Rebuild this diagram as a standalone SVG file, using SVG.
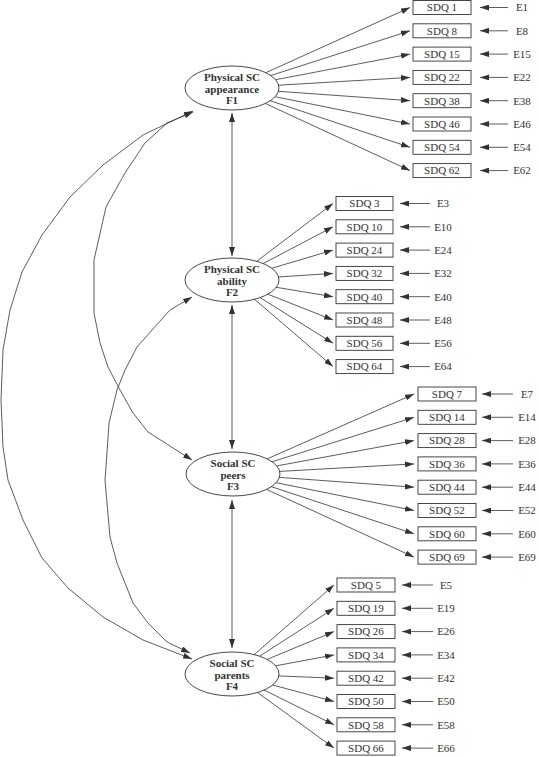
<svg xmlns="http://www.w3.org/2000/svg" width="539" height="757" viewBox="0 0 539 757">
<defs>
<marker id="ah" markerUnits="userSpaceOnUse" markerWidth="9" markerHeight="6" refX="9" refY="3" orient="auto-start-reverse">
<path d="M0,0 L9,3 L0,6 z" fill="#333"/>
</marker>
<style>
.c{stroke:#333;stroke-width:0.8;fill:none}
.a{marker-end:url(#ah)}
.d{marker-start:url(#ah);marker-end:url(#ah)}
.box{fill:#fff;stroke:#333;stroke-width:0.9}
.ell{fill:#fff;stroke:#333;stroke-width:0.9}
.bt{font-family:"Liberation Serif",serif;font-size:11px;fill:#333;text-anchor:middle}
.ft{font-family:"Liberation Serif",serif;font-size:11px;font-weight:bold;fill:#333;text-anchor:middle}
</style>
</defs>
<rect width="539" height="757" fill="#fff"/>
<g id="connectors">
<line class="c a" x1="232" y1="88" x2="410" y2="7.5"/>
<line class="c a" x1="232" y1="88" x2="410" y2="30.8"/>
<line class="c a" x1="232" y1="88" x2="410" y2="54.1"/>
<line class="c a" x1="232" y1="88" x2="410" y2="77.4"/>
<line class="c a" x1="232" y1="88" x2="410" y2="100.7"/>
<line class="c a" x1="232" y1="88" x2="410" y2="124"/>
<line class="c a" x1="232" y1="88" x2="410" y2="147.3"/>
<line class="c a" x1="232" y1="88" x2="410" y2="170.6"/>
<line class="c a" x1="232" y1="280" x2="333" y2="203.5"/>
<line class="c a" x1="232" y1="280" x2="333" y2="226.8"/>
<line class="c a" x1="232" y1="280" x2="333" y2="250.1"/>
<line class="c a" x1="232" y1="280" x2="333" y2="273.4"/>
<line class="c a" x1="232" y1="280" x2="333" y2="296.7"/>
<line class="c a" x1="232" y1="280" x2="333" y2="320"/>
<line class="c a" x1="232" y1="280" x2="333" y2="343.3"/>
<line class="c a" x1="232" y1="280" x2="333" y2="366.6"/>
<line class="c a" x1="233" y1="474" x2="414" y2="394"/>
<line class="c a" x1="233" y1="474" x2="414" y2="417.3"/>
<line class="c a" x1="233" y1="474" x2="414" y2="440.6"/>
<line class="c a" x1="233" y1="474" x2="414" y2="463.9"/>
<line class="c a" x1="233" y1="474" x2="414" y2="487.2"/>
<line class="c a" x1="233" y1="474" x2="414" y2="510.5"/>
<line class="c a" x1="233" y1="474" x2="414" y2="533.8"/>
<line class="c a" x1="233" y1="474" x2="414" y2="557.1"/>
<line class="c a" x1="232" y1="674" x2="334" y2="585"/>
<line class="c a" x1="232" y1="674" x2="334" y2="608.3"/>
<line class="c a" x1="232" y1="674" x2="334" y2="631.6"/>
<line class="c a" x1="232" y1="674" x2="334" y2="654.9"/>
<line class="c a" x1="232" y1="674" x2="334" y2="678.2"/>
<line class="c a" x1="232" y1="674" x2="334" y2="701.5"/>
<line class="c a" x1="232" y1="674" x2="334" y2="724.8"/>
<line class="c a" x1="232" y1="674" x2="334" y2="748.1"/>
<line class="c a" x1="508" y1="7.5" x2="480" y2="7.5"/>
<line class="c a" x1="508" y1="30.8" x2="480" y2="30.8"/>
<line class="c a" x1="508" y1="54.1" x2="480" y2="54.1"/>
<line class="c a" x1="508" y1="77.4" x2="480" y2="77.4"/>
<line class="c a" x1="508" y1="100.7" x2="480" y2="100.7"/>
<line class="c a" x1="508" y1="124" x2="480" y2="124"/>
<line class="c a" x1="508" y1="147.3" x2="480" y2="147.3"/>
<line class="c a" x1="508" y1="170.6" x2="480" y2="170.6"/>
<line class="c a" x1="430" y1="203.5" x2="400" y2="203.5"/>
<line class="c a" x1="430" y1="226.8" x2="400" y2="226.8"/>
<line class="c a" x1="430" y1="250.1" x2="400" y2="250.1"/>
<line class="c a" x1="430" y1="273.4" x2="400" y2="273.4"/>
<line class="c a" x1="430" y1="296.7" x2="400" y2="296.7"/>
<line class="c a" x1="430" y1="320" x2="400" y2="320"/>
<line class="c a" x1="430" y1="343.3" x2="400" y2="343.3"/>
<line class="c a" x1="430" y1="366.6" x2="400" y2="366.6"/>
<line class="c a" x1="513" y1="394" x2="482" y2="394"/>
<line class="c a" x1="513" y1="417.3" x2="482" y2="417.3"/>
<line class="c a" x1="513" y1="440.6" x2="482" y2="440.6"/>
<line class="c a" x1="513" y1="463.9" x2="482" y2="463.9"/>
<line class="c a" x1="513" y1="487.2" x2="482" y2="487.2"/>
<line class="c a" x1="513" y1="510.5" x2="482" y2="510.5"/>
<line class="c a" x1="513" y1="533.8" x2="482" y2="533.8"/>
<line class="c a" x1="513" y1="557.1" x2="482" y2="557.1"/>
<line class="c a" x1="433" y1="585" x2="402" y2="585"/>
<line class="c a" x1="433" y1="608.3" x2="402" y2="608.3"/>
<line class="c a" x1="433" y1="631.6" x2="402" y2="631.6"/>
<line class="c a" x1="433" y1="654.9" x2="402" y2="654.9"/>
<line class="c a" x1="433" y1="678.2" x2="402" y2="678.2"/>
<line class="c a" x1="433" y1="701.5" x2="402" y2="701.5"/>
<line class="c a" x1="433" y1="724.8" x2="402" y2="724.8"/>
<line class="c a" x1="433" y1="748.1" x2="402" y2="748.1"/>
<line class="c d" x1="232" y1="113" x2="232" y2="256"/>
<line class="c d" x1="232" y1="305" x2="232" y2="449"/>
<line class="c d" x1="232" y1="500" x2="232" y2="648"/>
<polyline class="c d" points="193,111 143,135 103,165 70,197 42,235 22,272 10,310 3,350 1,400 3,447 8,480 23,520 42,558 68,588 103,617 143,640 192,659"/>
<polyline class="c d" points="193,112 167,123 145,143 125,173 106,207 94,260 94,313 100,343 108,367 120,390 133,413 148,432 192,460"/>
<polyline class="c d" points="192,297 170,310 152,330 137,347 125,370 117,390 109,423 106,467 105,480 110,537 117,563 133,603 148,623 167,642 190,653"/>
</g>
<g id="F1"><ellipse class="ell" cx="232" cy="88" rx="47" ry="22"/><text class="ft" x="232" y="81">Physical SC</text><text class="ft" x="232" y="92.5">appearance</text><text class="ft" x="232" y="104">F1</text></g>
<g id="F2"><ellipse class="ell" cx="232" cy="280" rx="47" ry="22"/><text class="ft" x="232" y="273">Physical SC</text><text class="ft" x="232" y="284.5">ability</text><text class="ft" x="232" y="296">F2</text></g>
<g id="F3"><ellipse class="ell" cx="233" cy="474" rx="47" ry="22"/><text class="ft" x="233" y="467">Social SC</text><text class="ft" x="233" y="478.5">peers</text><text class="ft" x="233" y="490">F3</text></g>
<g id="F4"><ellipse class="ell" cx="232" cy="674" rx="47" ry="22"/><text class="ft" x="232" y="667">Social SC</text><text class="ft" x="232" y="678.5">parents</text><text class="ft" x="232" y="690">F4</text></g>
<g id="group1">
<g id="SDQ1"><rect class="box" x="413" y="0.5" width="58" height="14"/><text class="bt" x="442" y="11.3">SDQ 1</text></g>
<g id="SDQ8"><rect class="box" x="413" y="23.8" width="58" height="14"/><text class="bt" x="442" y="34.6">SDQ 8</text></g>
<g id="SDQ15"><rect class="box" x="413" y="47.1" width="58" height="14"/><text class="bt" x="442" y="57.9">SDQ 15</text></g>
<g id="SDQ22"><rect class="box" x="413" y="70.4" width="58" height="14"/><text class="bt" x="442" y="81.2">SDQ 22</text></g>
<g id="SDQ38"><rect class="box" x="413" y="93.7" width="58" height="14"/><text class="bt" x="442" y="104.5">SDQ 38</text></g>
<g id="SDQ46"><rect class="box" x="413" y="117" width="58" height="14"/><text class="bt" x="442" y="127.8">SDQ 46</text></g>
<g id="SDQ54"><rect class="box" x="413" y="140.3" width="58" height="14"/><text class="bt" x="442" y="151.1">SDQ 54</text></g>
<g id="SDQ62"><rect class="box" x="413" y="163.6" width="58" height="14"/><text class="bt" x="442" y="174.4">SDQ 62</text></g>
</g>
<g id="errors1">
<text class="bt" x="522" y="11.3">E1</text><text class="bt" x="522" y="34.6">E8</text><text class="bt" x="522" y="57.9">E15</text><text class="bt" x="522" y="81.2">E22</text><text class="bt" x="522" y="104.5">E38</text><text class="bt" x="522" y="127.8">E46</text><text class="bt" x="522" y="151.1">E54</text><text class="bt" x="522" y="174.4">E62</text>
</g>
<g id="group2">
<g id="SDQ3"><rect class="box" x="336" y="196.5" width="57" height="14"/><text class="bt" x="364.5" y="207.3">SDQ 3</text></g>
<g id="SDQ10"><rect class="box" x="336" y="219.8" width="57" height="14"/><text class="bt" x="364.5" y="230.6">SDQ 10</text></g>
<g id="SDQ24"><rect class="box" x="336" y="243.1" width="57" height="14"/><text class="bt" x="364.5" y="253.9">SDQ 24</text></g>
<g id="SDQ32"><rect class="box" x="336" y="266.4" width="57" height="14"/><text class="bt" x="364.5" y="277.2">SDQ 32</text></g>
<g id="SDQ40"><rect class="box" x="336" y="289.7" width="57" height="14"/><text class="bt" x="364.5" y="300.5">SDQ 40</text></g>
<g id="SDQ48"><rect class="box" x="336" y="313" width="57" height="14"/><text class="bt" x="364.5" y="323.8">SDQ 48</text></g>
<g id="SDQ56"><rect class="box" x="336" y="336.3" width="57" height="14"/><text class="bt" x="364.5" y="347.1">SDQ 56</text></g>
<g id="SDQ64"><rect class="box" x="336" y="359.6" width="57" height="14"/><text class="bt" x="364.5" y="370.4">SDQ 64</text></g>
</g>
<g id="errors2">
<text class="bt" x="443" y="207.3">E3</text><text class="bt" x="443" y="230.6">E10</text><text class="bt" x="443" y="253.9">E24</text><text class="bt" x="443" y="277.2">E32</text><text class="bt" x="443" y="300.5">E40</text><text class="bt" x="443" y="323.8">E48</text><text class="bt" x="443" y="347.1">E56</text><text class="bt" x="443" y="370.4">E64</text>
</g>
<g id="group3">
<g id="SDQ7"><rect class="box" x="418" y="387" width="58" height="14"/><text class="bt" x="447" y="397.8">SDQ 7</text></g>
<g id="SDQ14"><rect class="box" x="418" y="410.3" width="58" height="14"/><text class="bt" x="447" y="421.1">SDQ 14</text></g>
<g id="SDQ28"><rect class="box" x="418" y="433.6" width="58" height="14"/><text class="bt" x="447" y="444.4">SDQ 28</text></g>
<g id="SDQ36"><rect class="box" x="418" y="456.9" width="58" height="14"/><text class="bt" x="447" y="467.7">SDQ 36</text></g>
<g id="SDQ44"><rect class="box" x="418" y="480.2" width="58" height="14"/><text class="bt" x="447" y="491">SDQ 44</text></g>
<g id="SDQ52"><rect class="box" x="418" y="503.5" width="58" height="14"/><text class="bt" x="447" y="514.3">SDQ 52</text></g>
<g id="SDQ60"><rect class="box" x="418" y="526.8" width="58" height="14"/><text class="bt" x="447" y="537.6">SDQ 60</text></g>
<g id="SDQ69"><rect class="box" x="418" y="550.1" width="58" height="14"/><text class="bt" x="447" y="560.9">SDQ 69</text></g>
</g>
<g id="errors3">
<text class="bt" x="527" y="397.8">E7</text><text class="bt" x="527" y="421.1">E14</text><text class="bt" x="527" y="444.4">E28</text><text class="bt" x="527" y="467.7">E36</text><text class="bt" x="527" y="491">E44</text><text class="bt" x="527" y="514.3">E52</text><text class="bt" x="527" y="537.6">E60</text><text class="bt" x="527" y="560.9">E69</text>
</g>
<g id="group4">
<g id="SDQ5"><rect class="box" x="337" y="578" width="58" height="14"/><text class="bt" x="366" y="588.8">SDQ 5</text></g>
<g id="SDQ19"><rect class="box" x="337" y="601.3" width="58" height="14"/><text class="bt" x="366" y="612.1">SDQ 19</text></g>
<g id="SDQ26"><rect class="box" x="337" y="624.6" width="58" height="14"/><text class="bt" x="366" y="635.4">SDQ 26</text></g>
<g id="SDQ34"><rect class="box" x="337" y="647.9" width="58" height="14"/><text class="bt" x="366" y="658.7">SDQ 34</text></g>
<g id="SDQ42"><rect class="box" x="337" y="671.2" width="58" height="14"/><text class="bt" x="366" y="682">SDQ 42</text></g>
<g id="SDQ50"><rect class="box" x="337" y="694.5" width="58" height="14"/><text class="bt" x="366" y="705.3">SDQ 50</text></g>
<g id="SDQ58"><rect class="box" x="337" y="717.8" width="58" height="14"/><text class="bt" x="366" y="728.6">SDQ 58</text></g>
<g id="SDQ66"><rect class="box" x="337" y="741.1" width="58" height="14"/><text class="bt" x="366" y="751.9">SDQ 66</text></g>
</g>
<g id="errors4">
<text class="bt" x="446" y="588.8">E5</text><text class="bt" x="446" y="612.1">E19</text><text class="bt" x="446" y="635.4">E26</text><text class="bt" x="446" y="658.7">E34</text><text class="bt" x="446" y="682">E42</text><text class="bt" x="446" y="705.3">E50</text><text class="bt" x="446" y="728.6">E58</text><text class="bt" x="446" y="751.9">E66</text>
</g>
</svg>
